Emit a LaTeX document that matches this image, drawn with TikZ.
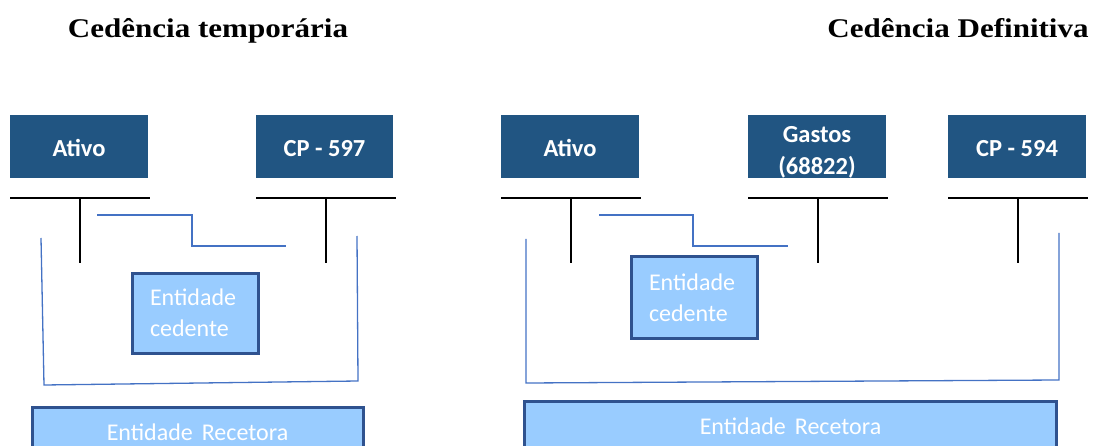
\documentclass[tikz,border=0pt]{standalone}
\usepackage{fontspec}
\setmainfont{Liberation Serif}
\newfontfamily\boxfont{Carlito}
\newfontfamily\titlefont[FakeStretch = 1.15]{Liberation Serif}
\definecolor{accountblue}{HTML}{215582}
\definecolor{entityfill}{HTML}{99CCFF}
\definecolor{entityline}{HTML}{2F528F}
\definecolor{flowblue}{HTML}{4472C4}
\tikzset{
    every picture/.style = {
        x = 1pt,
        y = -1pt
    },
    account/.style = {
        fill = accountblue,
        text = white,
        inner sep = 0pt,
        text height = 20pt,
        text depth = 0pt,
        minimum width = 138pt,
        minimum height = 63pt,
        font = \boxfont\bfseries\fontsize{24.5}{32}\selectfont
    },
    entity/.style = {
        draw = entityline,
        line width = 3pt,
        fill = entityfill,
        text = white,
        inner ysep = 0pt,
        font = \boxfont\fontsize{24}{31}\selectfont
    },
    widespace/.style = {
        font = {\boxfont\fontsize{24}{31}\selectfont\spaceskip=9pt\relax}
    },
    tline/.style = {
        line width = 2pt,
        black
    },
    flow/.style = {
        line width = 1.3pt,
        flowblue
    },
    heading/.style = {
        anchor = base,
        font = \titlefont\bfseries\fontsize{27}{32}\selectfont
    }
}

\begin{document}
\begin{tikzpicture}
    % \draw[step = 50pt, lightgray, very thin] (0, 0) grid (1094, 446);
    \useasboundingbox (0, 0) rectangle (1094, 446);

    \node[heading] (titleL) at (208, 38) {Cedência temporária};
    \node[heading] (titleR) at (958, 38) {Cedência Definitiva};

    % temporary
    \node[account] (ativoL) at (79, 146.5) {Ativo};
    \node[account, minimum width = 137pt] (cpL) at (324.5, 146.5) {CP - 597};

    \draw[tline] (10, 198) -- (150, 198);
    \draw[tline] (80, 198) -- (80, 263);
    \draw[tline] (256, 198) -- (396, 198);
    \draw[tline] (326, 198) -- (326, 263);

    \draw[flow] (97, 215) -- (192, 215) -- (192, 246) -- (286, 246);
    \draw[flow] (41, 238) -- (44, 385) -- (358, 381) -- (357, 236);

    \node[entity, text width = 90pt, inner xsep = 18pt, minimum height = 80pt, align = left] (cedL) at (195, 313) {Entidade\\cedente};
    \node[entity, widespace, minimum width = 331pt, minimum height = 50pt] (recL) at (197.5, 432) {Entidade Recetora};

    % definitive
    \node[account] (ativoR) at (570, 146.5) {Ativo};
    \node[account, text height = 56pt, align = center] (gastosR) at (817, 146.5) {Gastos\\(68822)};
    \node[account] (cpR) at (1017, 146.5) {CP - 594};

    \draw[tline] (501, 198) -- (641, 198);
    \draw[tline] (571, 198) -- (571, 263);
    \draw[tline] (748, 198) -- (888, 198);
    \draw[tline] (818, 198) -- (818, 263);
    \draw[tline] (948, 198) -- (1088, 198);
    \draw[tline] (1018, 198) -- (1018, 263);

    \draw[flow] (599, 215) -- (693, 215) -- (693, 246) -- (788, 246);
    \draw[flow] (526, 239) -- (526, 383) -- (1059, 380) -- (1059, 233);

    \node[entity, text width = 90pt, inner xsep = 18pt, minimum height = 81pt, align = left] (cedR) at (694, 297.5) {Entidade\\cedente};
    \node[entity, widespace, minimum width = 532pt, minimum height = 50pt] (recR) at (790.5, 426) {Entidade Recetora};
\end{tikzpicture}
\end{document}
